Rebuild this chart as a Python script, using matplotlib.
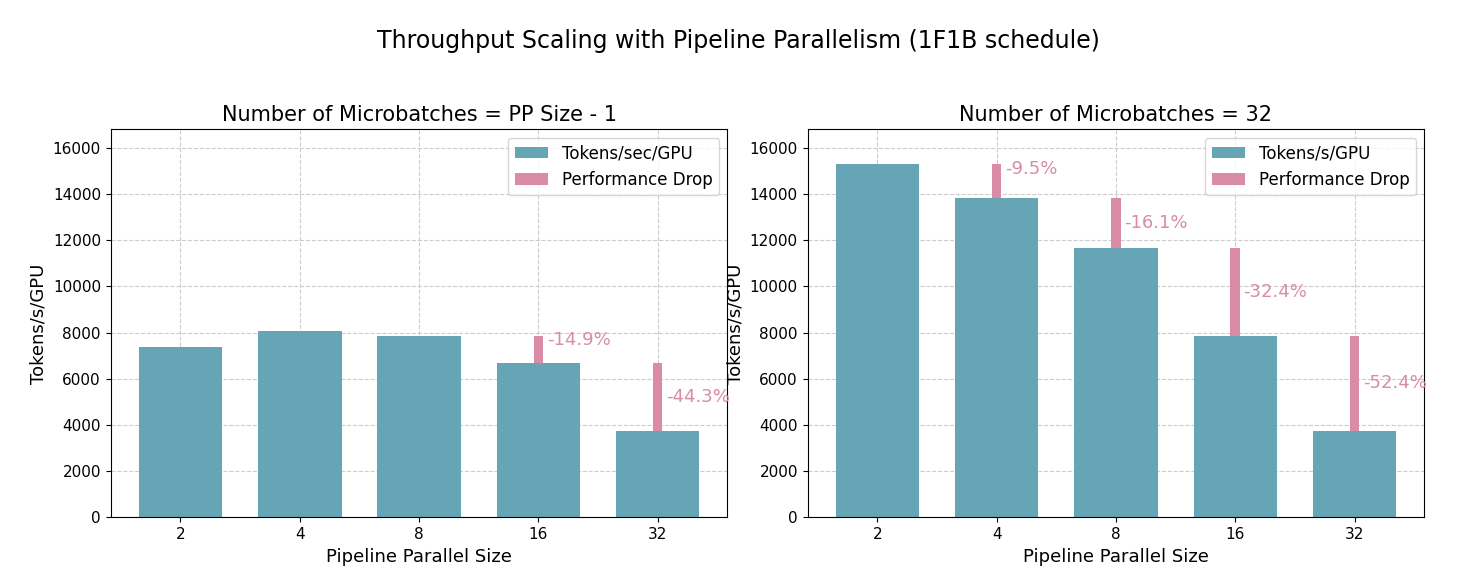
import numpy as np
import matplotlib.pyplot as plt

plt.rcParams['font.family'] = ['Liberation Sans Narrow', 'DejaVu Sans']

pp_sizes = ['2', '4', '8', '16', '32']
left_tput = [7400, 8050, 7850, 6700, 3750]
right_tput = [15300, 13850, 11650, 7850, 3750]
left_drops = {3: '-14.9%', 4: '-44.3%'}
right_drops = {1: '-9.5%', 2: '-16.1%', 3: '-32.4%', 4: '-52.4%'}

teal = '#66a5b5'
pink = '#d98ba8'

fig, axes = plt.subplots(1, 2, figsize=(14.76, 5.88), dpi=100)


def draw(ax, tput, drops, title, label):
    x = np.arange(len(pp_sizes))
    ax.bar(x, tput, width=0.7, color=teal, label=label, zorder=2)
    first = True
    for i, txt in drops.items():
        prev, cur = tput[i - 1], tput[i]
        ax.bar(x[i], prev - cur, bottom=cur, width=0.08, color=pink, zorder=3,
               label='Performance Drop' if first else None)
        first = False
        ax.text(x[i] + 0.07, cur + (prev - cur) * 0.85 if prev - cur < 2000 else (prev + cur) / 2,
                txt, color=pink, fontsize=13, va='center', ha='left')
    ax.set_xticks(x, pp_sizes)
    ax.set_ylim(0, 16800)
    ax.set_yticks(range(0, 16001, 2000))
    ax.set_xlabel('Pipeline Parallel Size', fontsize=13)
    ax.set_ylabel('Tokens/s/GPU', fontsize=13)
    ax.set_title(title, fontsize=15)
    ax.grid(True, linestyle='--', color='#cccccc', zorder=0)
    ax.set_axisbelow(True)
    ax.tick_params(labelsize=11)
    ax.legend(fontsize=12, loc='upper right')


draw(axes[0], left_tput, left_drops, 'Number of Microbatches = PP Size - 1', 'Tokens/sec/GPU')
draw(axes[1], right_tput, right_drops, 'Number of Microbatches = 32', 'Tokens/s/GPU')

fig.suptitle('Throughput Scaling with Pipeline Parallelism (1F1B schedule)', fontsize=17, y=0.95)
fig.subplots_adjust(left=0.075, right=0.965, top=0.78, bottom=0.12, wspace=0.13)
fig.savefig('out.png')
